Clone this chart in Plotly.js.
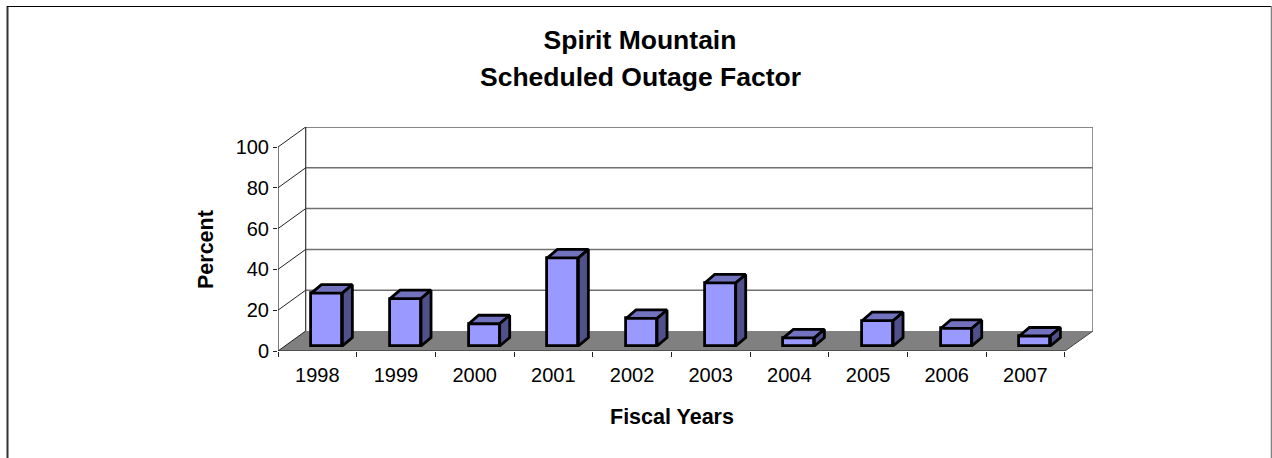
<!DOCTYPE html>
<html>
<head>
<meta charset="utf-8">
<script src="https://cdn.plot.ly/plotly-3.0.1.min.js"></script>
<style>html,body{margin:0;padding:0;background:#fff;overflow:hidden}</style>
</head>
<body>
<div id="chart" style="width:1272px;height:458px"></div>
<script>
const years = [1998, 1999, 2000, 2001, 2002, 2003, 2004, 2005, 2006, 2007];
const outage = [25.9, 23.2, 10.9, 43.2, 13.5, 30.9, 4.0, 12.4, 8.6, 4.9];
const yTicks = [0, 20, 40, 60, 80, 100];
const gridValues = [20, 40, 60, 80];
const FONT = '"Liberation Sans", Arial, sans-serif';

const L = 278, T = 127, W = 815, H = 224;
const X0 = 1997.5, XU = 78.67, YU = 2.04;
const wallDX = 27.7 / XU, wallDY = 20 / YU;
const xFront = X0 + 787 / XU, xEnd = X0 + W / XU, yEnd = H / YU;
const barW = 31 / XU, barOff = -0.076, barBase = 2.45;
const barDX = 10 / XU, barDY = 8.5 / YU;
const px = v => (v - L) / W, py = v => 1 - (v - T) / H;

const topX = [], topY = [], sideX = [], sideY = [];
years.forEach((yr, i) => {
  const a = yr + barOff, b = a + barW, t = barBase + outage[i];
  topX.push(a, a + barDX, b + barDX, b, a, null);
  topY.push(t, t + barDY, t + barDY, t, t, null);
  sideX.push(b, b + barDX, b + barDX, b, b, null);
  sideY.push(barBase, barBase + barDY, t + barDY, t, barBase, null);
});

const frameLine = (x, y, color, width) => ({
  type: 'scatter', mode: 'lines', x, y, cliponaxis: false, hoverinfo: 'skip', showlegend: false,
  line: {color, width: width || 1}
});

const diagX = [], diagY = [];
yTicks.forEach(v => { diagX.push(X0, X0 + wallDX, null); diagY.push(v, v + wallDY, null); });

const traces = [
  {type: 'bar', x: years, y: outage, base: barBase, width: barW, offset: barOff,
   marker: {color: '#9999FF', line: {color: '#000', width: 2.8}}, hoverinfo: 'x+y', showlegend: false, cliponaxis: false},
  {type: 'scatter', mode: 'lines', x: topX, y: topY, fill: 'toself', fillcolor: '#7272BF', cliponaxis: false,
   line: {color: '#000', width: 2.8}, hoverinfo: 'skip', showlegend: false},
  {type: 'scatter', mode: 'lines', x: sideX, y: sideY, fill: 'toself', fillcolor: '#50508A', cliponaxis: false,
   line: {color: '#000', width: 2.8}, hoverinfo: 'skip', showlegend: false},
  frameLine([X0, X0], [0, 100], '#222', 1.2),
  frameLine([X0, xFront], [0, 0], '#222', 1.2),
  frameLine(diagX, diagY, '#222'),
  frameLine([X0 + wallDX, X0 + wallDX], [wallDY, yEnd], '#333', 1.2),
  frameLine([X0 + wallDX, xEnd], [yEnd, yEnd], '#111', 1.2),
  frameLine([xEnd, xEnd], [wallDY, yEnd], '#707070', 1.5),
  frameLine([xFront, xEnd], [0, wallDY], '#444')
];

const shapes = [
  {type: 'path', layer: 'below', xref: 'x', yref: 'y', line: {width: 0}, fillcolor: '#808080',
   path: `M${X0},0 L${X0 + wallDX},${wallDY} L${xEnd},${wallDY} L${xFront},0 Z`}
];
gridValues.forEach(v => shapes.push({type: 'line', layer: 'below', xref: 'x', yref: 'y',
  x0: X0 + wallDX, x1: xEnd, y0: v + wallDY, y1: v + wallDY, line: {color: '#707070', width: 1.5}}));
// outer chart-area frame, cut off by the bottom of the picture
shapes.push(
  {type: 'line', xref: 'paper', yref: 'paper', x0: px(7.5), x1: px(7.5), y0: py(6), y1: py(470), line: {color: '#333', width: 2}},
  {type: 'line', xref: 'paper', yref: 'paper', x0: px(7), x1: px(1272), y0: py(6.5), y1: py(6.5), line: {color: '#000', width: 1}},
  {type: 'line', xref: 'paper', yref: 'paper', x0: px(1271.5), x1: px(1271.5), y0: py(6), y1: py(470), line: {color: '#808080', width: 1.5}}
);

const textAt = (text, x, y, size, extra) => Object.assign({
  text, xref: 'paper', yref: 'paper', x: px(x), y: py(y), xanchor: 'center', yanchor: 'middle',
  showarrow: false, font: {family: FONT, size, color: '#000'}
}, extra || {});

const layout = {
  width: 1272, height: 458,
  margin: {l: L, r: 1272 - L - W, t: T, b: 458 - T - H, pad: 0},
  paper_bgcolor: '#fff', plot_bgcolor: 'rgba(0,0,0,0)',
  showlegend: false, bargap: 0,
  font: {family: FONT, size: 20, color: '#000'},
  title: {text: '<b>Spirit Mountain</b>', font: {family: FONT, size: 26.5, color: '#000'},
          x: 640 / 1272, xanchor: 'center', xref: 'container', y: 1 - 40 / 458, yanchor: 'middle', yref: 'container'},
  xaxis: {range: [X0, X0 + W / XU], fixedrange: true, zeroline: false, showgrid: false, showline: false,
          tickmode: 'array', tickvals: years, ticktext: years.map(String), tickangle: 0,
          ticks: 'outside', ticklen: 6, tickcolor: 'rgba(0,0,0,0)', tickfont: {family: FONT, size: 20, color: '#000'},
          minor: {tickmode: 'array', tickvals: years.map(y => y - 0.5).concat([years[9] + 0.5]),
                  ticks: 'outside', ticklen: 5, tickcolor: '#222', tickwidth: 1, showgrid: false}},
  yaxis: {range: [0, yEnd], fixedrange: true, zeroline: false, showgrid: false, showline: false,
          tickmode: 'array', tickvals: yTicks, ticktext: yTicks.map(String),
          ticks: 'outside', ticklen: 4, tickcolor: '#222', tickwidth: 1, tickfont: {family: FONT, size: 20, color: '#000'}},
  shapes,
  annotations: [
    textAt('<b>Scheduled Outage Factor</b>', 640, 77, 26.5),
    textAt('<b>Percent</b>', 206, 250, 21.5, {textangle: -90}),
    textAt('<b>Fiscal Years</b>', 672, 417, 21.5)
  ]
};

Plotly.newPlot('chart', traces, layout, {displayModeBar: false, responsive: false});
</script>
</body>
</html>
